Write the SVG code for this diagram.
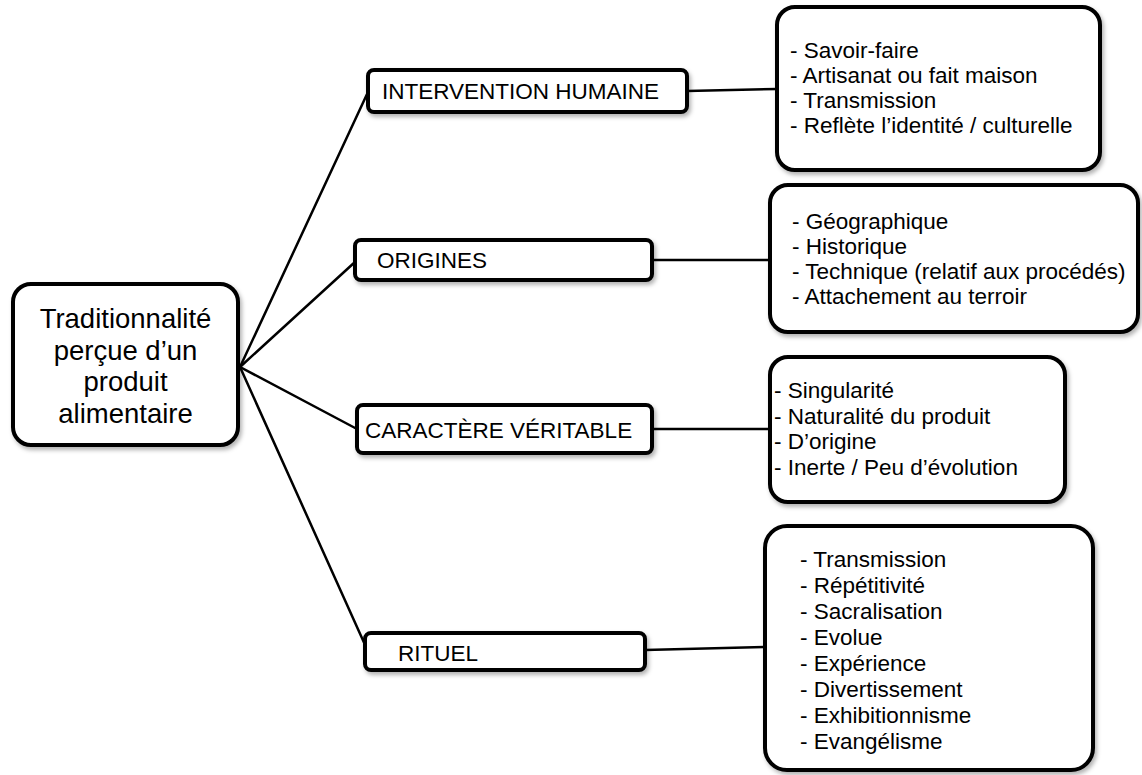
<svg xmlns="http://www.w3.org/2000/svg" width="1142" height="775" viewBox="0 0 1142 775">
<style>
  .box { fill: #ffffff; stroke: #000000; stroke-width: 4; filter: url(#sh); }
  .conn { stroke: #000000; stroke-width: 2.5; fill: none; stroke-linecap: round; }
  .t { font-family: "Liberation Sans", Arial, sans-serif; font-size: 22.5px; fill: #000000; }
  .big { font-family: "Liberation Sans", Arial, sans-serif; font-size: 27.5px; fill: #000000; text-anchor: middle; }
</style>
<defs>
  <filter id="sh" x="-10%" y="-10%" width="130%" height="140%">
    <feDropShadow dx="2" dy="3" stdDeviation="2" flood-color="#000000" flood-opacity="0.3"/>
  </filter>
</defs>
<rect width="1142" height="775" fill="#ffffff"/>
<g id="connectors">
  <line class="conn" x1="240" y1="367" x2="368" y2="92"/>
  <line class="conn" x1="240" y1="367" x2="355" y2="262"/>
  <line class="conn" x1="240" y1="367" x2="357" y2="429"/>
  <line class="conn" x1="240" y1="367" x2="366" y2="647"/>
  <line class="conn" x1="687" y1="91" x2="777" y2="89"/>
  <line class="conn" x1="652" y1="260" x2="770" y2="260"/>
  <line class="conn" x1="652" y1="429" x2="770" y2="429"/>
  <line class="conn" x1="645" y1="650" x2="765" y2="647"/>
</g>
<g id="root">
  <rect class="box" x="13" y="284" width="225" height="161" rx="18"/>
  <text class="big" x="125.5" y="328">Traditionnalité</text>
  <text class="big" x="125.5" y="359.5">perçue d’un</text>
  <text class="big" x="125.5" y="391">produit</text>
  <text class="big" x="125.5" y="422.5">alimentaire</text>
</g>
<g id="intervention">
  <rect class="box" x="368" y="70" width="319" height="42" rx="6"/>
  <text class="t" x="382" y="99">INTERVENTION HUMAINE</text>
</g>
<g id="origines">
  <rect class="box" x="355" y="240" width="297" height="40" rx="6"/>
  <text class="t" x="377" y="268">ORIGINES</text>
</g>
<g id="caractere">
  <rect class="box" x="357" y="405" width="295" height="48" rx="6"/>
  <text class="t" x="365" y="438">CARACTÈRE VÉRITABLE</text>
</g>
<g id="rituel">
  <rect class="box" x="365" y="633" width="280" height="37" rx="6"/>
  <text class="t" x="398" y="661">RITUEL</text>
</g>
<g id="detail-intervention">
  <rect class="box" x="777" y="7" width="323" height="163" rx="18"/>
  <text class="t" x="790" y="58">- Savoir-faire</text>
  <text class="t" x="790" y="83">- Artisanat ou fait maison</text>
  <text class="t" x="790" y="108">- Transmission</text>
  <text class="t" x="790" y="133">- Reflète l’identité / culturelle</text>
</g>
<g id="detail-origines">
  <rect class="box" x="770" y="185" width="368" height="147" rx="18"/>
  <text class="t" x="792" y="229">- Géographique</text>
  <text class="t" x="792" y="254">- Historique</text>
  <text class="t" x="792" y="279">- Technique (relatif aux procédés)</text>
  <text class="t" x="792" y="304">- Attachement au terroir</text>
</g>
<g id="detail-caractere">
  <rect class="box" x="770" y="357" width="295" height="145" rx="18"/>
  <text class="t" x="774" y="398">- Singularité</text>
  <text class="t" x="774" y="423.5">- Naturalité du produit</text>
  <text class="t" x="774" y="449">- D’origine</text>
  <text class="t" x="774" y="474.5">- Inerte / Peu d’évolution</text>
</g>
<g id="detail-rituel">
  <rect class="box" x="765" y="526" width="328" height="244" rx="22"/>
  <text class="t" x="800" y="567">- Transmission</text>
  <text class="t" x="800" y="593">- Répétitivité</text>
  <text class="t" x="800" y="619">- Sacralisation</text>
  <text class="t" x="800" y="645">- Evolue</text>
  <text class="t" x="800" y="671">- Expérience</text>
  <text class="t" x="800" y="697">- Divertissement</text>
  <text class="t" x="800" y="723">- Exhibitionnisme</text>
  <text class="t" x="800" y="749">- Evangélisme</text>
</g>
</svg>
